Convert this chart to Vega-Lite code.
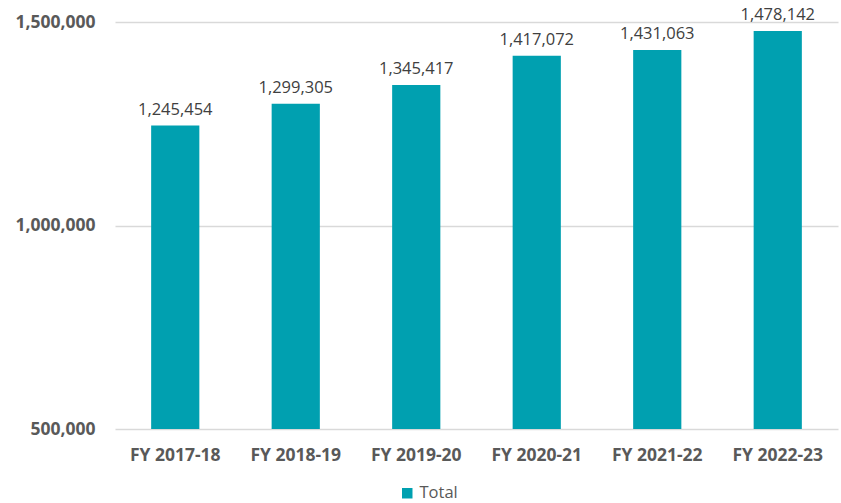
{
  "$schema": "https://vega.github.io/schema/vega-lite/v6.json",
  "width": 723,
  "height": 407,
  "autosize": {"type": "none"},
  "padding": {"left": 115, "top": 22, "right": 3, "bottom": 74},
  "background": "white",
  "config": {
    "font": "Open Sans",
    "view": {"stroke": null}
  },
  "data": {
    "values": [
      {"year": "FY 2017-18", "value": 1245454, "series": "Total"},
      {"year": "FY 2018-19", "value": 1299305, "series": "Total"},
      {"year": "FY 2019-20", "value": 1345417, "series": "Total"},
      {"year": "FY 2020-21", "value": 1417072, "series": "Total"},
      {"year": "FY 2021-22", "value": 1431063, "series": "Total"},
      {"year": "FY 2022-23", "value": 1478142, "series": "Total"}
    ]
  },
  "encoding": {
    "x": {
      "field": "year",
      "type": "nominal",
      "sort": null,
      "scale": {"paddingInner": 0.6, "paddingOuter": 0.3},
      "axis": {
        "title": null,
        "labelAngle": 0,
        "labelFont": "Open Sans",
        "labelFontSize": 17.5,
        "labelFontWeight": "bold",
        "labelColor": "#595959",
        "labelPadding": 17,
        "ticks": false,
        "domain": false
      }
    },
    "y": {
      "field": "value",
      "type": "quantitative",
      "scale": {"domain": [500000, 1500000], "nice": false, "zero": false},
      "axis": {
        "title": null,
        "values": [500000, 1000000, 1500000],
        "format": ",d",
        "labelFont": "Open Sans",
        "labelFontSize": 17.5,
        "labelFontWeight": "bold",
        "labelColor": "#595959",
        "labelPadding": 20,
        "ticks": false,
        "domain": false,
        "grid": true,
        "gridColor": "#d9d9d9",
        "gridWidth": 1.5
      }
    }
  },
  "layer": [
    {
      "mark": {"type": "bar", "clip": true},
      "encoding": {
        "color": {
          "field": "series",
          "type": "nominal",
          "scale": {"range": ["#00A0B0"]},
          "legend": {
            "title": null,
            "orient": "none",
            "legendX": 284,
            "legendY": 463,
            "padding": 0,
            "symbolType": "square",
            "symbolSize": 110,
            "symbolOpacity": 1,
            "labelFont": "Open Sans",
            "labelFontSize": 16.5,
            "labelColor": "#595959",
            "labelOffset": 4
          }
        }
      }
    },
    {
      "mark": {"type": "text", "baseline": "bottom", "dy": -8, "fontSize": 16.5, "color": "#404040", "font": "Open Sans"},
      "encoding": {
        "text": {"field": "value", "type": "quantitative", "format": ","}
      }
    }
  ]
}
